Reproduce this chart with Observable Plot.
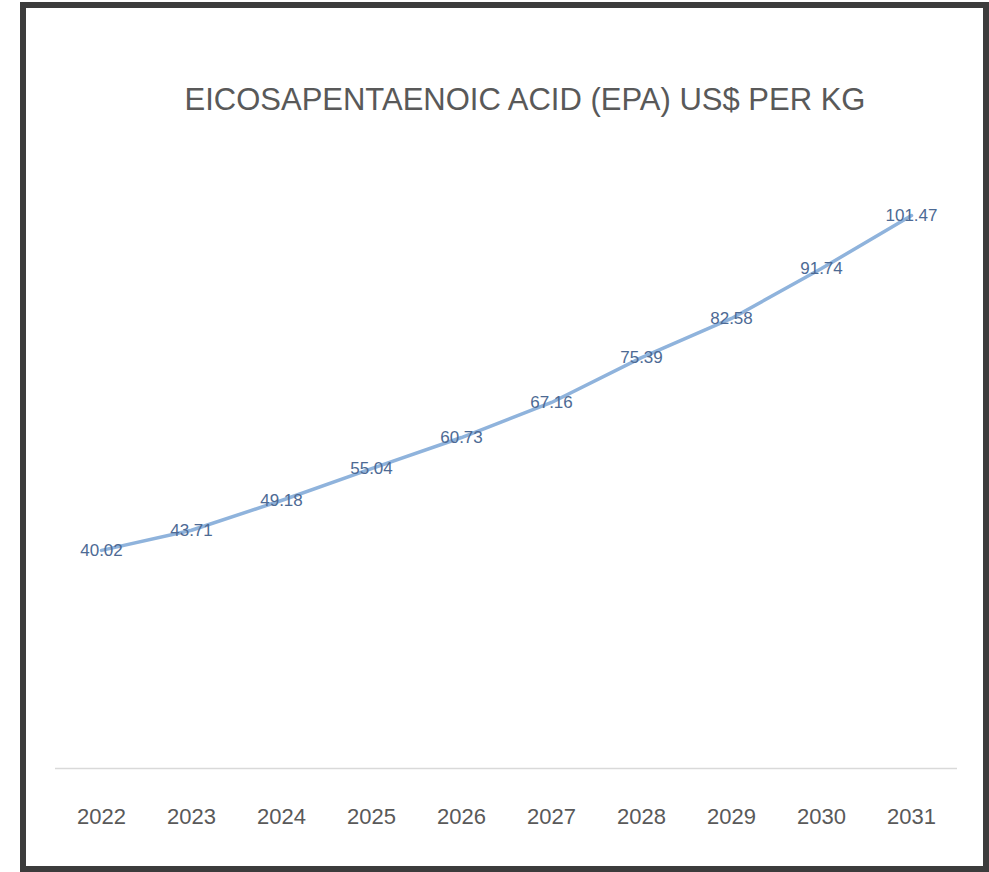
<!DOCTYPE html>
<html>
<head>
<meta charset="utf-8">
<script src="https://cdn.jsdelivr.net/npm/d3@7"></script>
<script src="https://cdn.jsdelivr.net/npm/@observablehq/plot@0.6"></script>
<style>
  html, body { margin: 0; padding: 0; background: #ffffff; }
  body { width: 989px; height: 872px; position: relative; overflow: hidden; font-family: "Liberation Sans", "DejaVu Sans", sans-serif; }
  #frame {
    position: absolute; left: 20px; top: 2px; width: 969px; height: 870px;
    box-sizing: border-box; border: 6px solid #3c3c3c; background: #ffffff;
  }
  #title {
    position: absolute; left: 145px; top: 82px; width: 760px; text-align: center;
    font-size: 31px; color: #595959; letter-spacing: 0px; white-space: nowrap;
  }
  #chart { position: absolute; left: 0; top: 140px; }
</style>
</head>
<body>
<div id="frame"></div>
<div id="title">EICOSAPENTAENOIC ACID (EPA) US$ PER KG</div>
<div id="chart"></div>
<script>
// Yearly price, US$ per kg
const years = ["2022", "2023", "2024", "2025", "2026", "2027", "2028", "2029", "2030", "2031"];
const prices = [40.02, 43.71, 49.18, 55.04, 60.73, 67.16, 75.39, 82.58, 91.74, 101.47];

const rows = years.map((year, i) => ({year, price: prices[i]}));

const chart = Plot.plot({
  width: 989,
  height: 710,
  marginLeft: 55,
  marginRight: 32,
  marginTop: 0,
  marginBottom: 82,
  style: {background: "transparent", fontFamily: "Liberation Sans, DejaVu Sans, sans-serif"},
  x: {type: "point", domain: years, padding: 0.5, label: null},
  y: {domain: [0, 110], range: [628, 28.5], axis: null},
  marks: [
    Plot.ruleY([0], {stroke: "#d9d9d9", strokeWidth: 1.5}),
    Plot.axisX({tickSize: 0, tickPadding: 40, fontSize: 22, fill: "#595959", label: null}),
    Plot.line(rows, {x: "year", y: "price", stroke: "#8fb3dc", strokeWidth: 3.5, strokeLinejoin: "round"}),
    Plot.text(rows, {x: "year", y: "price", text: d => d.price.toFixed(2), fontSize: 17, fill: "#4d6a94"})
  ]
});
document.getElementById("chart").appendChild(chart);
</script>
</body>
</html>
